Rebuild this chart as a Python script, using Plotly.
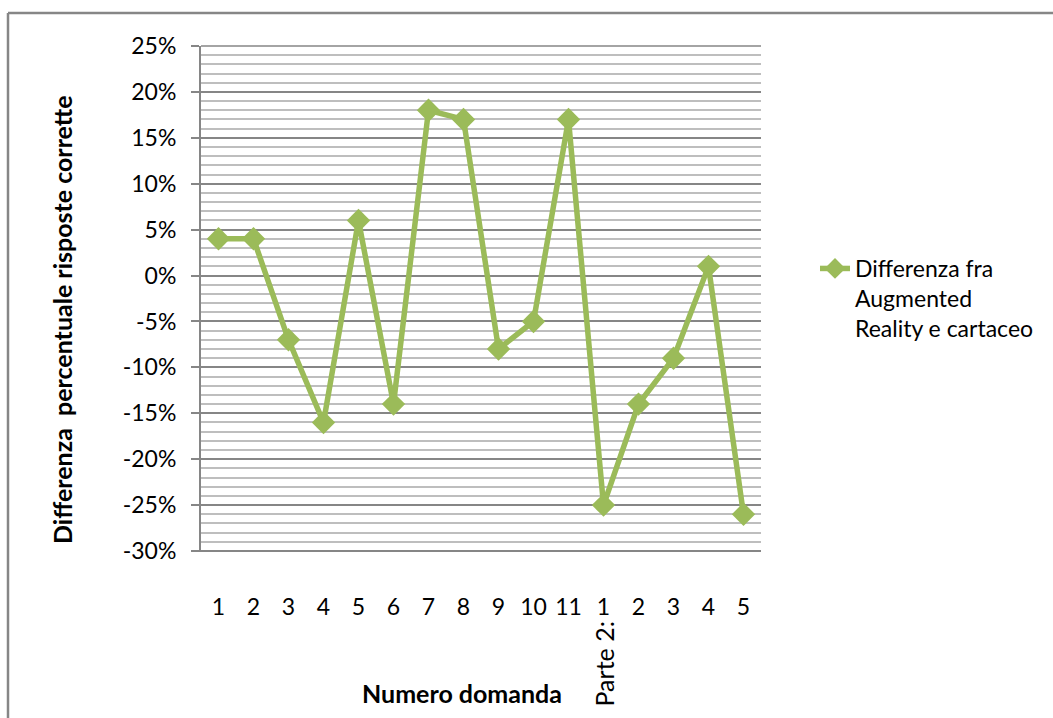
import plotly.graph_objects as go

# Question numbers (part 1: 1-11, part 2: 1-5) and the percentage difference per question
domande = ["1", "2", "3", "4", "5", "6", "7", "8", "9", "10", "11", "1", "2", "3", "4", "5"]
differenza = [4, 4, -7, -16, 6, -14, 18, 17, -8, -5, 17, -25, -14, -9, 1, -26]
y_ticks = [25, 20, 15, 10, 5, 0, -5, -10, -15, -20, -25, -30]
y_tick_labels = [f"{v}%" for v in y_ticks]

FONT = "Lato"
GREEN = "#9BBB59"
MAJOR = "#868686"
MINOR = "#BEBEBE"

W, H = 1053, 718
L, R, T, B = 201, 761, 46, 551


def px_x(px):
    return (px - L) / (R - L)


def px_y(py):
    return (B - py) / (B - T)


positions = list(range(len(domande)))

fig = go.Figure()
fig.add_trace(go.Scatter(
    x=positions,
    y=differenza,
    mode="lines+markers",
    name="Differenza fra<br>Augmented<br>Reality e cartaceo",
    line=dict(color=GREEN, width=5.5),
    marker=dict(symbol="diamond", size=18, color=GREEN),
    cliponaxis=False,
))

fig.update_layout(
    width=W, height=H,
    margin=dict(l=L, r=W - R, t=T, b=H - B),
    paper_bgcolor="white",
    plot_bgcolor="white",
    font=dict(family=FONT, size=23, color="#000000"),
    showlegend=True,
    legend=dict(
        xref="container", yref="container",
        x=815 / W, y=1 - 247 / H,
        xanchor="left", yanchor="top",
        font=dict(family=FONT, size=23, color="#000000"),
        itemwidth=30,
        valign="top",
        tracegroupgap=0,
        bgcolor="rgba(0,0,0,0)",
    ),
    xaxis=dict(
        range=[-0.5, len(domande) - 0.5],
        tickvals=positions,
        ticktext=domande,
        showgrid=False,
        zeroline=False,
        showline=False,
        ticks="",
        ticklabelstandoff=40,
        tickfont=dict(family=FONT, size=23, color="#000000"),
        fixedrange=True,
    ),
    yaxis=dict(
        range=[-30, 25],
        tickvals=y_ticks,
        ticktext=y_tick_labels,
        showgrid=True,
        gridcolor=MAJOR,
        gridwidth=1.5,
        zeroline=False,
        showline=True,
        linecolor=MAJOR,
        linewidth=2,
        ticks="outside",
        ticklen=8,
        tickcolor=MAJOR,
        tickwidth=2,
        ticklabelstandoff=10,
        tickfont=dict(family=FONT, size=23, color="#000000"),
        minor=dict(dtick=1, showgrid=True, gridcolor=MINOR, gridwidth=2, ticks=""),
        fixedrange=True,
    ),
)

shapes = [
    # bottom axis line, extended to the tick marks
    dict(type="line", xref="paper", yref="paper", x0=px_x(193), x1=1, y0=0, y1=0,
         line=dict(color=MAJOR, width=2)),
    # top gridline at 25%
    dict(type="line", xref="paper", yref="paper", x0=0, x1=1, y0=1, y1=1,
         line=dict(color=MAJOR, width=1.5), layer="below"),
    # chart frame: top and left edges
    dict(type="line", xref="paper", yref="paper", x0=px_x(8), x1=px_x(W + 5),
         y0=px_y(13), y1=px_y(13), line=dict(color=MAJOR, width=2.5)),
    dict(type="line", xref="paper", yref="paper", x0=px_x(8), x1=px_x(8),
         y0=px_y(13), y1=px_y(H + 5), line=dict(color=MAJOR, width=2.5)),
]
fig.update_layout(shapes=shapes)

fig.add_annotation(
    text="<b>Differenza  percentuale risposte corrette</b>",
    xref="paper", yref="paper", x=px_x(62), y=px_y(320),
    textangle=-90, showarrow=False, xanchor="center", yanchor="middle",
    font=dict(family=FONT, size=25, color="#000000"),
)
fig.add_annotation(
    text="<b>Numero domanda</b>",
    xref="paper", yref="paper", x=px_x(462), y=px_y(693),
    showarrow=False, xanchor="center", yanchor="middle",
    font=dict(family=FONT, size=25, color="#000000"),
)
fig.add_annotation(
    text="Parte 2:",
    xref="x", yref="paper", x=11, y=px_y(664),
    textangle=-90, showarrow=False, xanchor="center", yanchor="middle",
    font=dict(family=FONT, size=25, color="#000000"),
)

fig.write_html("out.html")
